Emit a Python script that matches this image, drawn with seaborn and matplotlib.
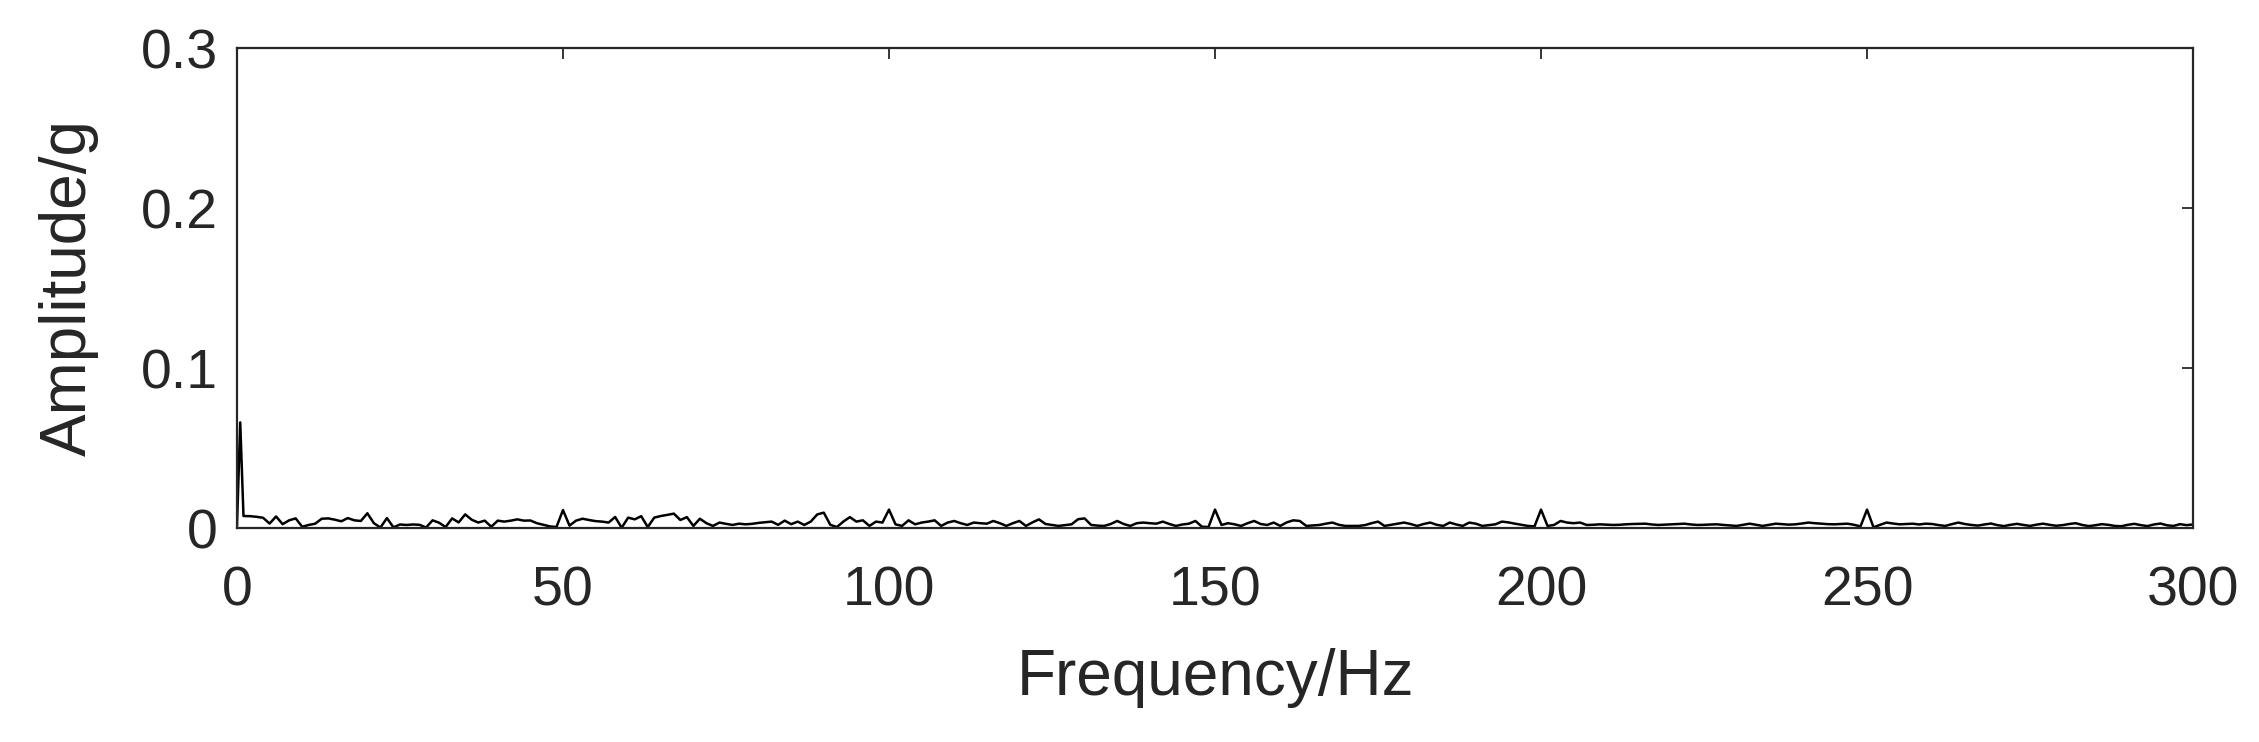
# %% Imports

import matplotlib.pyplot as plt
import pandas as pd
import seaborn as sns

# %% Spectrum data

# frequency grid: 0, 0.5 Hz, then 1 Hz steps up to 300 Hz
FREQ = [0, 0.5] + list(range(1, 301))

AMP = [
    # 0, 0.5
    0.0010, 0.0660,
    # 1-20 Hz
    0.0075, 0.0074, 0.0070, 0.0064, 0.0028, 0.0072, 0.0024, 0.0048, 0.0060, 0.0008,
    0.0019, 0.0027, 0.0058, 0.0060, 0.0052, 0.0042, 0.0062, 0.0048, 0.0044, 0.0092,
    # 21-40 Hz
    0.0030, 0.0003, 0.0062, 0.0004, 0.0022, 0.0019, 0.0022, 0.0020, 0.0003, 0.0048,
    0.0033, 0.0006, 0.0060, 0.0035, 0.0085, 0.0052, 0.0034, 0.0046, 0.0008, 0.0046,
    # 41-60 Hz
    0.0040, 0.0046, 0.0054, 0.0046, 0.0047, 0.0030, 0.0020, 0.0010, 0.0006, 0.0112,
    0.0015, 0.0046, 0.0058, 0.0050, 0.0043, 0.0040, 0.0034, 0.0069, 0.0002, 0.0065,
    # 61-80 Hz
    0.0054, 0.0074, 0.0006, 0.0065, 0.0075, 0.0082, 0.0090, 0.0050, 0.0068, 0.0013,
    0.0058, 0.0030, 0.0013, 0.0034, 0.0026, 0.0019, 0.0027, 0.0023, 0.0026, 0.0032,
    # 81-100 Hz
    0.0036, 0.0040, 0.0020, 0.0046, 0.0024, 0.0040, 0.0019, 0.0040, 0.0085, 0.0096,
    0.0020, 0.0006, 0.0040, 0.0068, 0.0040, 0.0048, 0.0013, 0.0040, 0.0034, 0.0115,
    # 101-120 Hz
    0.0023, 0.0013, 0.0048, 0.0023, 0.0034, 0.0040, 0.0048, 0.0013, 0.0034, 0.0044,
    0.0030, 0.0019, 0.0034, 0.0030, 0.0027, 0.0044, 0.0030, 0.0013, 0.0030, 0.0044,
    # 121-140 Hz
    0.0013, 0.0035, 0.0054, 0.0025, 0.0019, 0.0013, 0.0018, 0.0023, 0.0055, 0.0060,
    0.0019, 0.0015, 0.0013, 0.0025, 0.0044, 0.0025, 0.0013, 0.0030, 0.0034, 0.0030,
    # 141-160 Hz
    0.0027, 0.0040, 0.0025, 0.0013, 0.0022, 0.0027, 0.0044, 0.0008, 0.0006, 0.0115,
    0.0019, 0.0030, 0.0023, 0.0013, 0.0030, 0.0044, 0.0025, 0.0019, 0.0034, 0.0013,
    # 161-180 Hz
    0.0035, 0.0048, 0.0044, 0.0013, 0.0016, 0.0019, 0.0027, 0.0034, 0.0020, 0.0013,
    0.0013, 0.0013, 0.0018, 0.0030, 0.0040, 0.0013, 0.0020, 0.0027, 0.0034, 0.0025,
    # 181-200 Hz
    0.0013, 0.0025, 0.0034, 0.0020, 0.0013, 0.0034, 0.0022, 0.0013, 0.0034, 0.0027,
    0.0013, 0.0018, 0.0023, 0.0040, 0.0035, 0.0027, 0.0020, 0.0013, 0.0010, 0.0115,
    # 201-220 Hz
    0.0013, 0.0019, 0.0044, 0.0034, 0.0030, 0.0034, 0.0019, 0.0020, 0.0023, 0.0021,
    0.0019, 0.0020, 0.0023, 0.0025, 0.0026, 0.0027, 0.0022, 0.0019, 0.0021, 0.0023,
    # 221-240 Hz
    0.0025, 0.0027, 0.0022, 0.0019, 0.0020, 0.0022, 0.0023, 0.0019, 0.0016, 0.0013,
    0.0020, 0.0027, 0.0020, 0.0013, 0.0020, 0.0027, 0.0024, 0.0021, 0.0023, 0.0028,
    # 241-260 Hz
    0.0034, 0.0030, 0.0027, 0.0024, 0.0023, 0.0025, 0.0027, 0.0020, 0.0010, 0.0115,
    0.0004, 0.0020, 0.0034, 0.0028, 0.0023, 0.0025, 0.0027, 0.0022, 0.0027, 0.0025,
    # 261-280 Hz
    0.0018, 0.0013, 0.0024, 0.0034, 0.0025, 0.0019, 0.0015, 0.0022, 0.0028, 0.0018,
    0.0012, 0.0020, 0.0026, 0.0019, 0.0013, 0.0021, 0.0027, 0.0020, 0.0014, 0.0018,
    # 281-300 Hz
    0.0025, 0.0030, 0.0019, 0.0012, 0.0017, 0.0024, 0.0020, 0.0013, 0.0011, 0.0020,
    0.0026, 0.0018, 0.0012, 0.0022, 0.0028, 0.0017, 0.0013, 0.0024, 0.0018, 0.0022,
]

X_TICKS = [0, 50, 100, 150, 200, 250, 300]
Y_TICKS = [0, 0.1, 0.2, 0.3]
Y_TICK_LABELS = ["0", "0.1", "0.2", "0.3"]

df = pd.DataFrame({"Frequency": FREQ, "Amplitude": AMP})

# %% Plot

sns.set_style("white")
plt.rcParams["font.family"] = ["Liberation Sans", "DejaVu Sans"]

fig = plt.figure(figsize=(22.59, 7.42), dpi=100)
fig.subplots_adjust(left=0.1049, right=0.9708, bottom=0.2884, top=0.9353)
ax = fig.add_subplot(111)

sns.lineplot(data=df, x="Frequency", y="Amplitude", color="black", linewidth=1.8, ax=ax)

font_size = 40
ax.set_xlim(0, 300)
ax.set_ylim(0, 0.3)
ax.set_xticks(X_TICKS)
ax.set_yticks(Y_TICKS)
ax.set_yticklabels(Y_TICK_LABELS)
ax.set_xlabel("Frequency/Hz", fontsize=46, color="#262626", labelpad=22)
ax.set_ylabel("Amplitude/g", fontsize=46, color="#262626", labelpad=30)

ax.tick_params(
    direction="in", top=True, right=True, length=8, width=1.3,
    labelsize=font_size, colors="#262626", pad=14,
)
ax.tick_params(axis="x", pad=27)
for side in ["left", "right", "top", "bottom"]:
    ax.spines[side].set_visible(True)
    ax.spines[side].set_linewidth(1.6)
    ax.spines[side].set_color("#262626")

plt.savefig("out.png", dpi=100)
